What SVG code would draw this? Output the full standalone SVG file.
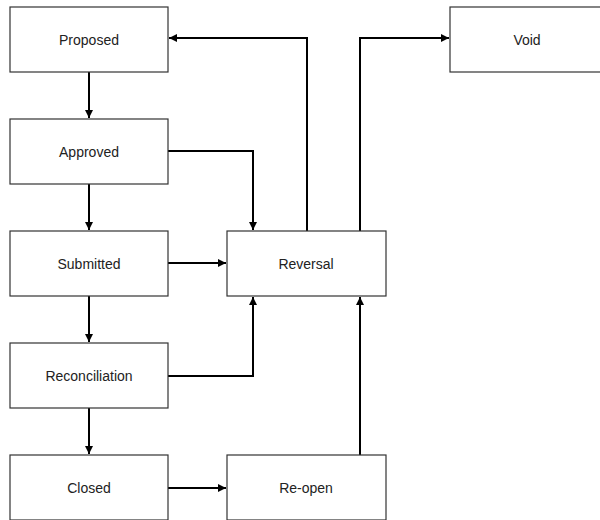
<svg xmlns="http://www.w3.org/2000/svg" width="600" height="520" viewBox="0 0 600 520">
  <style>
    .box { fill: #ffffff; stroke: #333333; stroke-width: 1.2; }
    .label { font-family: "Liberation Sans", Arial, sans-serif; font-size: 14px; fill: #222222; text-anchor: middle; dominant-baseline: central; }
    .edge { fill: none; stroke: #000000; stroke-width: 2; marker-end: url(#arrow); }
  </style>
  <defs>
    <marker id="arrow" markerWidth="8" markerHeight="8" refX="8" refY="4" orient="auto" markerUnits="userSpaceOnUse">
      <path d="M0,0 L8,4 L0,8 Z" fill="#000000"/>
    </marker>
  </defs>
  <rect width="600" height="520" fill="#ffffff"/>

  <g id="connectors">
    <path class="edge" d="M89,72 V118"/>
    <path class="edge" d="M89,184 V230"/>
    <path class="edge" d="M89,296 V342"/>
    <path class="edge" d="M89,408 V454"/>
    <path class="edge" d="M168,151 H253 V230"/>
    <path class="edge" d="M168,263 H226"/>
    <path class="edge" d="M168,376 H253 V297"/>
    <path class="edge" d="M168,488 H226"/>
    <path class="edge" d="M360,455 V297"/>
    <path class="edge" d="M307,231 V38 H169"/>
    <path class="edge" d="M360,231 V38 H449"/>
  </g>

  <g id="proposed">
    <rect class="box" x="10" y="7" width="158" height="65"/>
    <text class="label" x="89" y="40">Proposed</text>
  </g>
  <g id="approved">
    <rect class="box" x="10" y="119" width="158" height="65"/>
    <text class="label" x="89" y="152">Approved</text>
  </g>
  <g id="submitted">
    <rect class="box" x="10" y="231" width="158" height="65"/>
    <text class="label" x="89" y="264">Submitted</text>
  </g>
  <g id="reconciliation">
    <rect class="box" x="10" y="343" width="158" height="65"/>
    <text class="label" x="89" y="376">Reconciliation</text>
  </g>
  <g id="closed">
    <rect class="box" x="10" y="455" width="158" height="65"/>
    <text class="label" x="89" y="488">Closed</text>
  </g>
  <g id="reversal">
    <rect class="box" x="227" y="231" width="159" height="65"/>
    <text class="label" x="306" y="264">Reversal</text>
  </g>
  <g id="reopen">
    <rect class="box" x="227" y="455" width="159" height="65"/>
    <text class="label" x="306" y="488">Re-open</text>
  </g>
  <g id="void">
    <rect class="box" x="450" y="7" width="158" height="65"/>
    <text class="label" x="527" y="40">Void</text>
  </g>
</svg>
